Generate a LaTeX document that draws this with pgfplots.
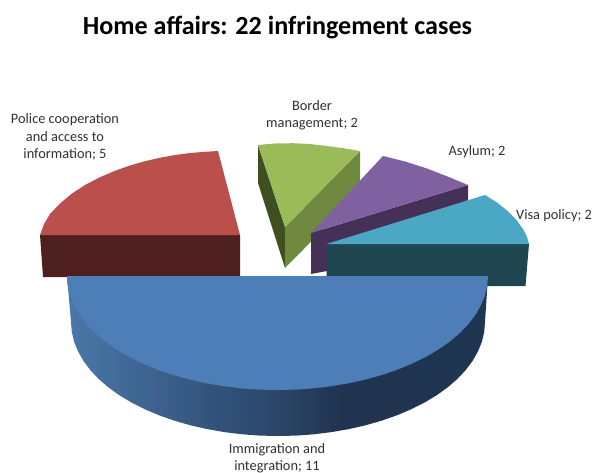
\documentclass[border=0pt]{standalone}
\usepackage{fontspec}
\setmainfont{Carlito}
\usepackage{pgfplots}
\pgfplotsset{compat=1.18}
\definecolor{redtop}{HTML}{BA4F4C}
\definecolor{redside}{HTML}{4D1F1F}
\definecolor{greentop}{HTML}{9BBB59}
\definecolor{greenleft}{HTML}{3F5020}
\definecolor{greenright}{HTML}{6F8A3F}
\definecolor{purptop}{HTML}{7F60A0}
\definecolor{purpside}{HTML}{453058}
\definecolor{tealtop}{HTML}{4AA8C4}
\definecolor{tealside}{HTML}{1E4550}
\definecolor{bluetop}{HTML}{4D7EB8}
\definecolor{txt}{HTML}{303030}
\definecolor{bsa}{HTML}{4A78A8}
\definecolor{bsb}{HTML}{3E6490}
\definecolor{bsc}{HTML}{32527A}
\definecolor{bsd}{HTML}{2B4668}
\definecolor{bse}{HTML}{20334F}
\definecolor{bsf}{HTML}{1F3552}
\pgfdeclarehorizontalshading{blueside}{100bp}{color(0bp)=(bsa); color(25bp)=(bsa); color(34.5bp)=(bsb); color(42.5bp)=(bsc); color(50bp)=(bsd); color(58bp)=(bse); color(75bp)=(bsf); color(100bp)=(bsf)}
\begin{document}
\begin{tikzpicture}
\useasboundingbox (0,0) rectangle (594bp,473bp);
\begin{axis}[
  at={(0,0)},anchor=south west,
  scale only axis,width=594bp,height=473bp,
  xmin=0,xmax=594,ymin=0,ymax=473,y dir=reverse,
  hide axis,clip=false]
% Police cooperation
\addplot[draw=none,fill=redside] coordinates {(40,235)(240,235)(240,277)(43,277)} --cycle;
\addplot[draw=none,fill=redtop] coordinates {(240,235)(218,151)(205,151.8)(190,153)(175,155)(160,157.7)(145,161.2)(130,165.5)(115,170.8)(100,177.2)(85,185)(72,193.5)(60,203.5)(50,214)(44,224)(40,235)} --cycle;
% Border management
\addplot[draw=none,fill=greenleft] coordinates {(258,145)(285,227)(285,268)(258,183)} --cycle;
\addplot[draw=none,fill=greenright] coordinates {(360,151)(285,227)(285,268)(360,192)} --cycle;
\addplot[draw=none,fill=greentop] coordinates {(285,227)(258,145)(275,143.5)(293,143.2)(310,144)(327,146)(344,148.3)(360,151)} --cycle;
% Asylum
\addplot[draw=none,fill=purpside] coordinates {(311,233)(468,185)(468,200)(327,271)(311,274)} --cycle;
\addplot[draw=none,fill=purptop] coordinates {(311,233)(383,156)(405,161.5)(427,168.5)(450,177.5)(468,185)} --cycle;
% Visa policy
\addplot[draw=none,fill=tealside] coordinates {(326.5,244)(529,244)(525.5,286)(326.5,286)} --cycle;
\addplot[draw=none,fill=tealtop] coordinates {(326.5,244)(485,195)(497,202.5)(507,210.5)(516,219.5)(523,229)(527,237)(529,244)} --cycle;
% Immigration and integration
\addplot[draw=none,shade,shading=blueside] coordinates {(67,276)(71,322)(71.8,331.9)(74.1,341.8)(78.1,351.5)(83.5,361)(90.4,370.2)(98.7,379)(108.4,387.4)(119.4,395.3)(131.6,402.6)(144.9,409.3)(159.3,415.4)(174.5,420.7)(190.5,425.3)(207.2,429.1)(224.4,432.1)(242.1,434.3)(260,435.6)(278,436)(296,435.6)(313.9,434.3)(331.6,432.1)(348.8,429.1)(365.5,425.3)(381.5,420.7)(396.7,415.4)(411.1,409.3)(424.4,402.6)(436.6,395.3)(447.6,387.4)(457.3,379)(465.6,370.2)(472.5,361)(477.9,351.5)(481.9,341.8)(484.2,331.9)(485,322)(488,276)} --cycle;
\addplot[draw=none,fill=bluetop] coordinates {(67,276)(67.8,285.9)(70.2,295.8)(74.2,305.5)(79.7,315)(86.7,324.2)(95.2,333)(105.1,341.4)(116.3,349.3)(128.7,356.6)(142.2,363.3)(156.8,369.4)(172.2,374.7)(188.5,379.3)(205.5,383.1)(223,386.1)(241,388.3)(259.1,389.6)(277.5,390)(295.9,389.6)(314,388.3)(332,386.1)(349.5,383.1)(366.5,379.3)(382.8,374.7)(398.2,369.4)(412.8,363.3)(426.3,356.6)(438.7,349.3)(449.9,341.4)(459.8,333)(468.3,324.2)(475.3,315)(480.8,305.5)(484.8,295.8)(487.2,285.9)(488,276)} --cycle;
% Text
\node[font=\fontsize{26.2}{30}\selectfont\bfseries,text=black,anchor=center] at (axis cs:277.5,28) {Home affairs: 22 infringement cases};
\tikzset{lab/.style={font=\fontsize{14.4}{17.5}\selectfont,text=txt,align=center,anchor=center,inner sep=0pt}}
\node[lab] at (axis cs:65,137) {Police cooperation\\and access to\\information; 5};
\node[lab] at (axis cs:312,115) {Border\\management; 2};
\node[lab] at (axis cs:477,152) {Asylum; 2};
\node[lab] at (axis cs:554,216) {Visa policy; 2};
\node[lab] at (axis cs:277,458) {Immigration and\\integration; 11};
\end{axis}
\end{tikzpicture}
\end{document}
